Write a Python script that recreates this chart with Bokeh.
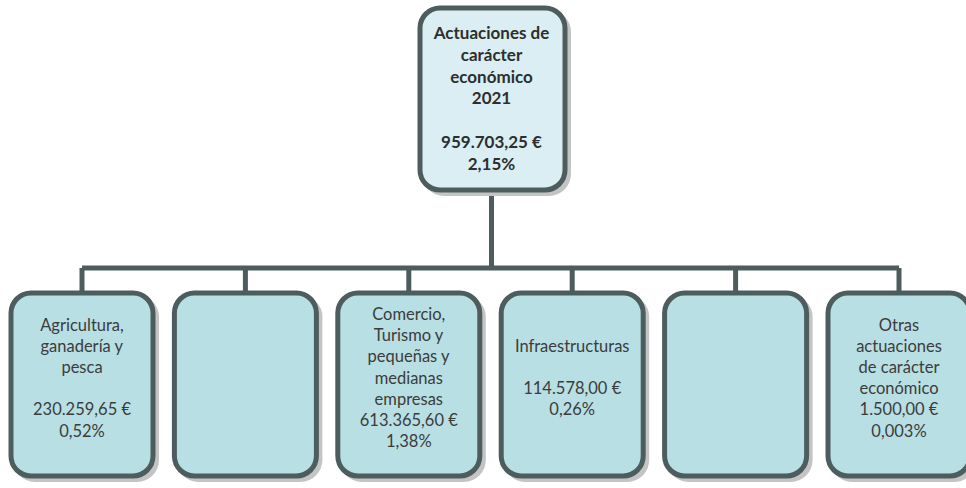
from bokeh.plotting import figure
from bokeh.models import Range1d
from bokeh.embed import file_html
from bokeh.resources import INLINE
from bokeh.core.properties import value

# ---------------- data ----------------
root_title = ["Actuaciones de", "carácter", "económico", "2021"]
root_amount = "959.703,25 €"
root_pct = "2,15%"

child_names = [
    ["Agricultura,", "ganadería y", "pesca"],
    [],
    ["Comercio,", "Turismo y", "pequeñas y", "medianas", "empresas"],
    ["Infraestructuras"],
    [],
    ["Otras", "actuaciones", "de carácter", "económico"],
]
child_amounts = ["230.259,65 €", "", "613.365,60 €", "114.578,00 €", "", "1.500,00 €"]
child_pcts = ["0,52%", "", "1,38%", "0,26%", "", "0,003%"]
child_blank = [True, False, False, True, False, False]

# ---------------- layout (pixel units) ----------------
BORDER = "#4D5D5E"
SHADOW = "#C4C4C4"
FILL_ROOT = "#DAEEF3"
FILL_CHILD = "#B8DFE3"
TEXT = "#3C3C3C"
FONT = "Lato"

root_l, root_r, root_t, root_b = 419.5, 564.5, 7.5, 189.5
root_cx = 491.0
n = len(child_names)
c0, step, half_w = 81.5, 163.4, 71.0
child_t, child_b = 292.5, 475.5
bus_y = 267.5

W, H = 966, 488
p = figure(width=W, height=H, output_backend="svg", toolbar_location=None,
           x_range=Range1d(0, W), y_range=Range1d(start=H, end=0),
           x_axis_location=None, y_axis_location=None,
           min_border=0, min_border_left=0, min_border_right=0,
           min_border_top=0, min_border_bottom=0)
p.grid.visible = False
p.outline_line_color = None
p.background_fill_color = "white"
p.border_fill_color = "white"

cxs = [c0 + step * i for i in range(n)]

# connectors
xs = [[root_cx, root_cx], [cxs[0], cxs[-1]]]
ys = [[root_b, bus_y], [bus_y, bus_y]]
for cx in cxs:
    xs.append([cx, cx])
    ys.append([bus_y, child_t])
p.multi_line(xs=xs, ys=ys, line_color=BORDER, line_width=5)

# shadows
off = 4
sl = [root_l + off] + [cx - half_w + off for cx in cxs]
sr = [root_r + off] + [cx + half_w + off for cx in cxs]
st = [root_t + off] + [child_t + off] * n
sb = [root_b + off] + [child_b + off] * n
p.quad(left=sl, right=sr, top=st, bottom=sb, fill_color=SHADOW,
       line_color=SHADOW, line_width=4, border_radius=20)

# boxes
bl = [root_l] + [cx - half_w for cx in cxs]
br = [root_r] + [cx + half_w for cx in cxs]
bt = [root_t] + [child_t] * n
bb = [root_b] + [child_b] * n
fills = [FILL_ROOT] + [FILL_CHILD] * n
p.quad(left=bl, right=br, top=bt, bottom=bb, fill_color=fills,
       line_color=BORDER, line_width=5, border_radius=20)

# root text
root_lines = root_title + ["", root_amount, root_pct]
rstep = 21.8
rc = 97.5
rys = [rc + (i - (len(root_lines) - 1) / 2) * rstep for i in range(len(root_lines))]
p.text(x=[root_cx] * len(root_lines), y=rys, text=root_lines,
       text_align="center", text_baseline="middle", text_font=value(FONT),
       text_font_style="bold", text_font_size="17px", text_color="#2E2E2E")

# child text
tx, ty, tt = [], [], []
cstep = 21.2
cc = 377.0
for i in range(n):
    if not child_names[i] and not child_amounts[i]:
        continue
    lines = list(child_names[i]) + ([""] if child_blank[i] else []) + [child_amounts[i], child_pcts[i]]
    for j, s in enumerate(lines):
        tx.append(cxs[i])
        ty.append(cc + (j - (len(lines) - 1) / 2) * cstep)
        tt.append(s)
p.text(x=tx, y=ty, text=tt, text_align="center", text_baseline="middle",
       text_font=value(FONT), text_font_size="16.5px", text_color=TEXT)

open("out.html", "w").write(file_html(p, INLINE))
